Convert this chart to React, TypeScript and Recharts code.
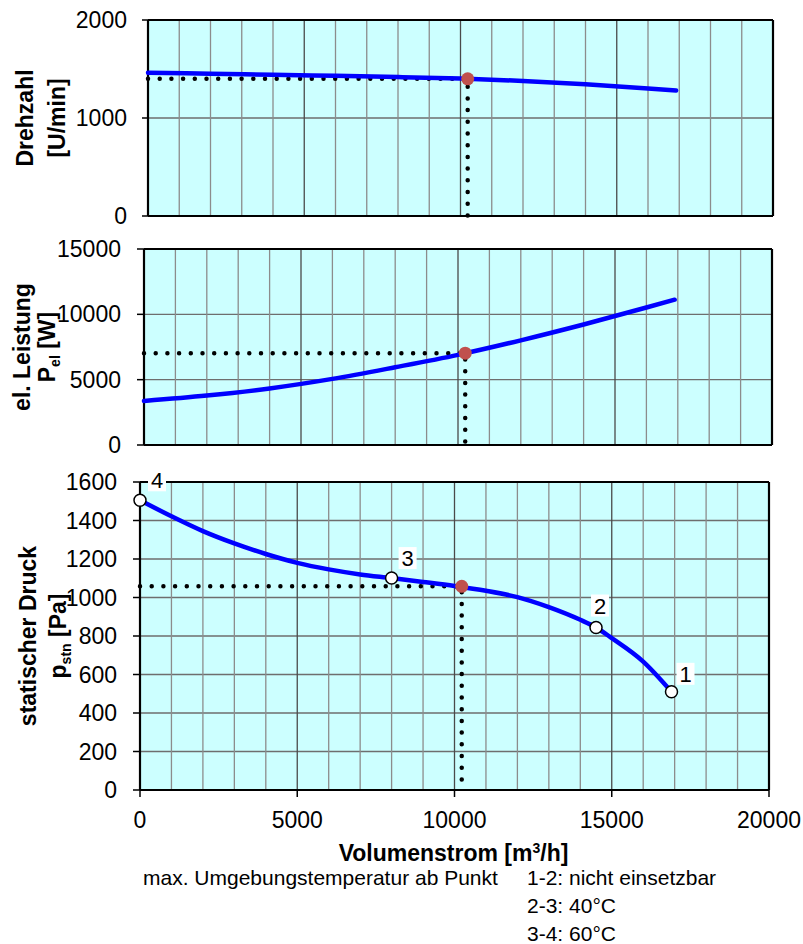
import { CartesianGrid, ComposedChart, Line, ReferenceLine, Scatter, XAxis, YAxis } from 'recharts';

const FONT = '"Liberation Sans", Arial, Helvetica, sans-serif';

// x axis: Volumenstrom [m³/h]
const flowTicks = [0, 5000, 10000, 15000, 20000];
const flowGrid = [1000, 2000, 3000, 4000, 6000, 7000, 8000, 9000, 11000, 12000, 13000, 14000, 16000, 17000, 18000, 19000];
const flowGridMajor = [5000, 10000, 15000];

// Drehzahl / el. Leistung curves share the same flow samples
const flow = [0, 2000, 4000, 6000, 8000, 10000, 12000, 14000, 16000, 16900];
const speed = [1462, 1452, 1441, 1430, 1418, 1403, 1378, 1345, 1302, 1280];
const power = [3370, 3780, 4330, 5060, 5950, 6900, 8010, 9220, 10520, 11120];

// statischer Druck curve
const pressureFlow = [0, 1000, 2000, 3000, 4000, 5000, 6000, 7000, 8000, 9000, 10000, 11000, 12000, 13000, 14000, 14500, 15000, 16000, 16900];
const pressure = [1505, 1422, 1345, 1281, 1226, 1180, 1146, 1120, 1101, 1081, 1060, 1035, 1002, 950, 884, 844, 789, 667, 510];

// numbered limit points on the pressure curve
const limitLabels = ['1', '2', '3', '4'];
const limitFlow = [16900, 14500, 8000, 0];
const limitPressure = [510, 844, 1101, 1505];

// operating point
const opFlow = 10230;
const opSpeed = 1400;
const opPower = 7030;
const opPressure = 1058;

const speedTicks = [0, 1000, 2000];
const powerTicks = [0, 5000, 10000, 15000];
const pressureTicks = [0, 200, 400, 600, 800, 1000, 1200, 1400, 1600];

// label offsets (px) for the numbered points
const labelOffset: Record<string, [number, number]> = {
  '1': [14, -18],
  '2': [4, -22],
  '3': [16, -20],
  '4': [17, -20],
};

const zip = (xs: number[], ys: number[]) => xs.map((x, i) => ({ x, y: ys[i] }));

const BLUE = '#0000ff';
const OP_RED = '#c0504d';

type TitleRow = { x: number; content: React.ReactNode };

function YTitle({ viewBox, rows }: { viewBox?: { x: number; y: number; width: number; height: number }; rows: TitleRow[] }) {
  const cy = viewBox ? viewBox.y + viewBox.height / 2 : 0;
  return (
    <g>
      {rows.map((r, i) => (
        <text
          key={i}
          x={r.x}
          y={cy}
          transform={`rotate(-90 ${r.x} ${cy})`}
          textAnchor="middle"
          fontWeight="bold"
          fontSize={23}
          fontFamily={FONT}
          fill="#000"
        >
          {r.content}
        </text>
      ))}
    </g>
  );
}

function XTitle({ viewBox }: { viewBox?: { x: number; y: number; width: number; height: number } }) {
  if (!viewBox) return null;
  const cx = viewBox.x + viewBox.width / 2;
  return (
    <text x={cx - 1} y={viewBox.y + 71} textAnchor="middle" fontWeight="bold" fontSize={23} fontFamily={FONT} fill="#000">
      Volumenstrom [m<tspan dy={-8} fontSize={14}>3</tspan>
      <tspan dy={8}>/h]</tspan>
    </text>
  );
}

function OpDot(props: any) {
  const { cx, cy } = props;
  if (cx == null || cy == null) return null;
  return <circle cx={cx} cy={cy} r={6.5} fill={OP_RED} />;
}

function LimitDot(props: any) {
  const { cx, cy, payload } = props;
  if (cx == null || cy == null) return null;
  const [dx, dy] = labelOffset[payload.label] ?? [12, -18];
  const lx = cx + dx;
  const ly = cy + dy;
  return (
    <g>
      <rect x={lx - 9} y={ly - 11} width={18} height={22} fill="#fff" />
      <text x={lx} y={ly + 8} textAnchor="middle" fontSize={22} fontFamily={FONT} fill="#000">
        {payload.label}
      </text>
      <circle cx={cx} cy={cy} r={6} fill="#fff" stroke="#000" strokeWidth={1.5} />
    </g>
  );
}

const dotted = {
  stroke: '#000',
  strokeWidth: 4.5,
  strokeDasharray: '0 11.7',
  strokeLinecap: 'round' as const,
};

const tickStyle = { fontSize: 23, fill: '#000', fontFamily: FONT };

// 1000-step vertical grid (darker every 5000) plus the black plot frame
function gridAndFrame(yMax: number) {
  return [
    ...flowGrid.map((v) => <ReferenceLine key={`g${v}`} x={v} stroke="#8c8c8c" strokeWidth={1.3} />),
    ...flowGridMajor.map((v) => <ReferenceLine key={`m${v}`} x={v} stroke="#4a4a4a" strokeWidth={1.3} />),
    <ReferenceLine key="bl" x={0} stroke="#000" strokeWidth={2.2} />,
    <ReferenceLine key="br" x={20000} stroke="#000" strokeWidth={2.2} />,
    <ReferenceLine key="bb" y={0} stroke="#000" strokeWidth={2.2} />,
    <ReferenceLine key="bt" y={yMax} stroke="#000" strokeWidth={2.2} />,
  ];
}

export default function App() {
  const speedData = zip(flow, speed);
  const powerData = zip(flow, power);
  const pressureData = zip(pressureFlow, pressure);
  const limitData = limitLabels.map((label, i) => ({ x: limitFlow[i], y: limitPressure[i], label }));

  const guide = (y: number) => [
    { x: 0, y },
    { x: opFlow, y },
    { x: opFlow, y: 0 },
  ];

  return (
    <div style={{ position: 'absolute', left: 0, top: 0, width: 803, height: 944, background: '#fff', fontFamily: FONT }}>
      {/* Drehzahl */}
      <div style={{ position: 'absolute', left: 0, top: 0 }}>
        <ComposedChart width={803} height={240} margin={{ top: 20, right: 30, bottom: 24, left: 0 }}>
          <CartesianGrid vertical={false} stroke="#6e6e6e" strokeWidth={1.3} fill="#ccffff" fillOpacity={1} />
          <XAxis dataKey="x" type="number" domain={[0, 20000]} ticks={flowTicks} hide />
          <YAxis
            dataKey="y"
            type="number"
            domain={[0, 2000]}
            ticks={speedTicks}
            width={148}
            axisLine={false}
            tickSize={6}
            tickMargin={15}
            tickLine={{ stroke: '#000', strokeWidth: 1.5 }}
            tick={tickStyle}
            label={<YTitle rows={[{ x: 33, content: 'Drehzahl' }, { x: 65, content: '[U/min]' }]} />}
          />
          {gridAndFrame(2000)}
          <Line data={guide(opSpeed)} dataKey="y" type="linear" dot={false} activeDot={false} {...dotted} isAnimationActive={false} />
          <Line data={speedData} dataKey="y" type="monotone" stroke={BLUE} strokeWidth={4.5} strokeLinecap="round" dot={false} activeDot={false} isAnimationActive={false} />
          <Scatter data={[{ x: opFlow, y: opSpeed }]} shape={OpDot} isAnimationActive={false} />
        </ComposedChart>
      </div>

      {/* el. Leistung */}
      <div style={{ position: 'absolute', left: 0, top: 230 }}>
        <ComposedChart width={803} height={240} margin={{ top: 19, right: 31, bottom: 25, left: 0 }}>
          <CartesianGrid vertical={false} stroke="#6e6e6e" strokeWidth={1.3} fill="#ccffff" fillOpacity={1} />
          <XAxis dataKey="x" type="number" domain={[0, 20000]} ticks={flowTicks} hide />
          <YAxis
            dataKey="y"
            type="number"
            domain={[0, 15000]}
            ticks={powerTicks}
            width={144}
            axisLine={false}
            tickSize={7}
            tickMargin={16}
            tickLine={{ stroke: '#000', strokeWidth: 1.5 }}
            tick={tickStyle}
            label={
              <YTitle
                rows={[
                  { x: 30, content: 'el. Leistung' },
                  {
                    x: 55,
                    content: (
                      <>
                        P<tspan dy={5} fontSize={14}>el</tspan>
                        <tspan dy={-5}> [W]</tspan>
                      </>
                    ),
                  },
                ]}
              />
            }
          />
          {gridAndFrame(15000)}
          <Line data={guide(opPower)} dataKey="y" type="linear" dot={false} activeDot={false} {...dotted} isAnimationActive={false} />
          <Line data={powerData} dataKey="y" type="monotone" stroke={BLUE} strokeWidth={4.5} strokeLinecap="round" dot={false} activeDot={false} isAnimationActive={false} />
          <Scatter data={[{ x: opFlow, y: opPower }]} shape={OpDot} isAnimationActive={false} />
        </ComposedChart>
      </div>

      {/* statischer Druck */}
      <div style={{ position: 'absolute', left: 0, top: 460 }}>
        <ComposedChart width={803} height={484} margin={{ top: 22, right: 34, bottom: 114, left: 0 }}>
          <CartesianGrid vertical={false} stroke="#6e6e6e" strokeWidth={1.3} fill="#ccffff" fillOpacity={1} />
          <XAxis
            dataKey="x"
            type="number"
            domain={[0, 20000]}
            ticks={flowTicks}
            height={40}
            axisLine={false}
            tickSize={7}
            tickMargin={15}
            tickLine={{ stroke: '#000', strokeWidth: 1.5 }}
            tick={tickStyle}
            label={<XTitle />}
          />
          <YAxis
            dataKey="y"
            type="number"
            domain={[0, 1600]}
            ticks={pressureTicks}
            width={140}
            axisLine={false}
            tickSize={7}
            tickMargin={16}
            tickLine={{ stroke: '#000', strokeWidth: 1.5 }}
            tick={tickStyle}
            label={
              <YTitle
                rows={[
                  { x: 36, content: 'statischer Druck' },
                  {
                    x: 66,
                    content: (
                      <>
                        p<tspan dy={5} fontSize={14}>stn</tspan>
                        <tspan dy={-5}> [Pa]</tspan>
                      </>
                    ),
                  },
                ]}
              />
            }
          />
          {gridAndFrame(1600)}
          <Line data={guide(opPressure)} dataKey="y" type="linear" dot={false} activeDot={false} {...dotted} isAnimationActive={false} />
          <Line data={pressureData} dataKey="y" type="monotone" stroke={BLUE} strokeWidth={4.5} strokeLinecap="round" dot={false} activeDot={false} isAnimationActive={false} />
          <Scatter data={[{ x: opFlow, y: opPressure }]} shape={OpDot} isAnimationActive={false} />
          <Scatter data={limitData} shape={LimitDot} isAnimationActive={false} />
        </ComposedChart>
      </div>

      {/* notes */}
      <svg width={803} height={944} style={{ position: 'absolute', left: 0, top: 0, pointerEvents: 'none' }}>
        <g fontFamily={FONT} fontSize={21} fill="#000">
          <text x={143} y={885}>max. Umgebungstemperatur ab Punkt</text>
          <text x={527} y={885}>1-2: nicht einsetzbar</text>
          <text x={527} y={913}>2-3: 40°C</text>
          <text x={527} y={941}>3-4: 60°C</text>
        </g>
      </svg>
    </div>
  );
}
